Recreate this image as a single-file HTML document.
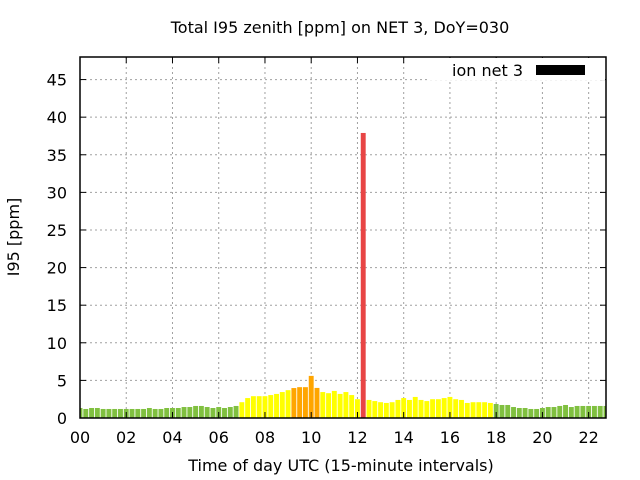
<!DOCTYPE html>
<html><head><meta charset="utf-8"><style>
body{margin:0;background:#fff}
svg{display:block;font-family:"DejaVu Sans","Liberation Sans",sans-serif}
</style></head><body>
<svg id="c" width="640" height="480">
<text x="340" y="33" font-size="16" text-anchor="middle">Total I95 zenith [ppm] on NET 3, DoY=030</text>
<text x="341" y="471" font-size="16" text-anchor="middle">Time of day UTC (15-minute intervals)</text>
<text x="19" y="237" font-size="16" text-anchor="middle" transform="rotate(-90 19 237)">I95 [ppm]</text>
<g id="grid"></g><g id="bars"></g><g id="axes"></g>
</svg>
<script>
const values=[1.33,1.2,1.33,1.33,1.2,1.2,1.2,1.2,1.2,1.2,1.2,1.2,1.33,1.2,1.2,1.33,1.33,1.33,1.46,1.46,1.6,1.6,1.46,1.33,1.46,1.33,1.46,1.6,
2.1,2.65,2.9,2.9,2.9,3.05,3.2,3.45,3.7,3.98,4.1,4.1,5.6,4.0,3.45,3.3,3.6,3.2,3.45,3.05,2.5,37.9,
2.4,2.25,2.1,2.0,2.1,2.4,2.65,2.4,2.8,2.4,2.25,2.5,2.5,2.65,2.8,2.5,2.4,2.0,2.1,2.1,2.1,2.0,
1.86,1.73,1.73,1.46,1.33,1.33,1.2,1.2,1.33,1.46,1.46,1.6,1.73,1.46,1.6,1.6,1.6,1.6,1.6,1.6];
const yTicks=[0,5,10,15,20,25,30,35,40,45];
const xTicks=[0,2,4,6,8,10,12,14,16,18,20,22];
const xTickLabels=["00","02","04","06","08","10","12","14","16","18","20","22"];
const L=80,R=606,T=57,B=418,XMAX=22.75,YMAX=48;
const xs=h=>L+(h/XMAX)*(R-L);
const ys=v=>B-(v/YMAX)*(B-T);
const NS="http://www.w3.org/2000/svg";
function mk(t,a,p){const e=document.createElementNS(NS,t);for(const k in a)e.setAttribute(k,a[k]);p.appendChild(e);return e;}
const grid=document.getElementById('grid'),bars=document.getElementById('bars'),axes=document.getElementById('axes');
yTicks.forEach(v=>{
 const y=ys(v);
 if(v>0){const g=mk('line',{x1:L,x2:R,y1:y,y2:y,stroke:'#a0a0a0','stroke-dasharray':'2,3'},grid);
 
 }
 const t=mk('text',{x:L-13,y:y+6,'font-size':16,'text-anchor':'end'},axes);t.textContent=v;
 
 
 mk('line',{x1:L,x2:L+6,y1:y,y2:y,stroke:'#000'},axes);
 mk('line',{x1:R,x2:R-6,y1:y,y2:y,stroke:'#000'},axes);
});
xTicks.forEach((h,i)=>{
 const x=xs(h);
 if(h>0){const g=mk('line',{x1:x,x2:x,y1:T,y2:B,stroke:'#a0a0a0','stroke-dasharray':'2,3'},grid);
 
 }
 const t=mk('text',{x:x,y:B+25,'font-size':16,'text-anchor':'middle'},axes);t.textContent=xTickLabels[i];
 
 
 mk('line',{x1:x,x2:x,y1:B,y2:B-6,stroke:'#000'},axes);
 mk('line',{x1:x,x2:x,y1:T,y2:T+6,stroke:'#000'},axes);
});
function col(v){return v<1.95?'#80c040':v<3.85?'#ffff00':v<10?'#ffa500':'#e84545';}
const bw=(R-L)/(XMAX*4)*0.85;
values.forEach((v,i)=>{
 const cx=xs(i*0.25);
 let x0=Math.max(L,cx-bw/2),x1=Math.min(R,cx+bw/2);
 const r=mk('rect',{x:x0,y:ys(v),width:x1-x0,height:B-ys(v),fill:col(v)},bars);
 
 
});
const lb=mk('rect',{x:427,y:58,width:178,height:22,fill:'#fff'},axes);


const lt=mk('text',{x:523,y:76,'font-size':16,'text-anchor':'end'},axes);lt.textContent='ion net 3';


const ls=mk('rect',{x:536,y:65,width:49,height:10,fill:'#000'},axes);


const f=mk('rect',{x:L,y:T,width:R-L,height:B-T,fill:'none',stroke:'#000','stroke-width':1.5},axes);


</script>
</body></html>
